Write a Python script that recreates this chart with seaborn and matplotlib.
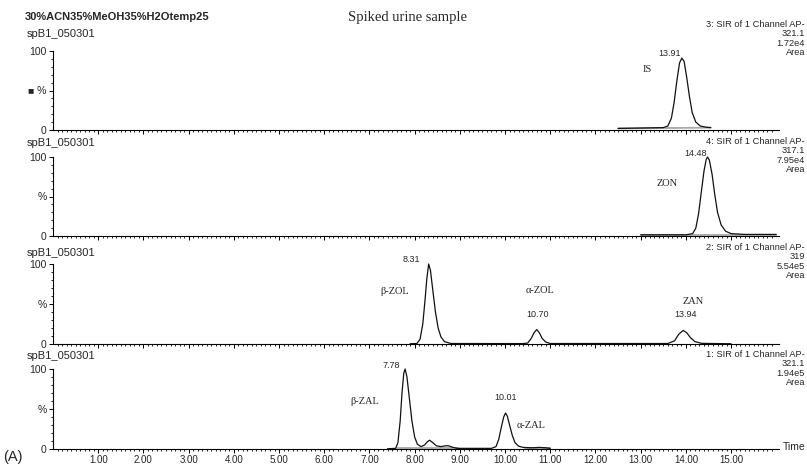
import numpy as np
import pandas as pd
import matplotlib
matplotlib.use("Agg")
import matplotlib.pyplot as plt
import seaborn as sns

# ---------------- data ----------------
# Panel 1 : IS (SIR 321.1)
is_t = [12.50, 13.50, 13.60, 13.68, 13.74, 13.80, 13.86, 13.91, 13.96, 14.02,
        14.08, 14.14, 14.22, 14.32, 14.45, 14.55]
is_y = [2.0, 3.0, 5.0, 15.0, 35.0, 62.0, 85.0, 91.0, 87.0, 66.0,
        42.0, 22.0, 10.0, 5.0, 3.5, 3.0]
is_base_t = [12.50, 14.55]
is_base_y = [2.0, 3.0]

# Panel 2 : ZON (SIR 317.1)
zon_t = [13.00, 14.00, 14.15, 14.22, 14.28, 14.34, 14.40, 14.45, 14.48, 14.52,
         14.58, 14.64, 14.70, 14.78, 14.88, 15.00, 15.30, 16.00]
zon_y = [1.5, 1.5, 3.0, 10.0, 28.0, 55.0, 82.0, 97.0, 100.0, 96.0,
         78.0, 52.0, 30.0, 14.0, 6.0, 3.0, 2.0, 2.0]
zon_base_t = [13.00, 16.00]
zon_base_y = [1.0, 1.0]

# Panel 3 : beta-ZOL, alpha-ZOL, ZAN (SIR 319)
zol_t = [7.90, 8.05, 8.12, 8.18, 8.23, 8.27, 8.31, 8.35, 8.40, 8.46, 8.52, 8.58,
         8.66, 8.80, 10.40, 10.50, 10.58, 10.64, 10.70, 10.76, 10.82, 10.90,
         11.00, 13.60, 13.75, 13.84, 13.94, 14.02, 14.10, 14.20, 14.35, 15.00]
zol_y = [0.3, 0.6, 6.0, 25.0, 55.0, 82.0, 100.0, 92.0, 68.0, 40.0, 20.0, 9.0,
         3.0, 0.6, 0.5, 1.2, 7.0, 14.0, 18.0, 14.0, 7.0, 2.5,
         0.6, 0.6, 4.0, 12.0, 17.0, 14.0, 8.0, 3.0, 0.8, 0.3]

# Panel 4 : beta-ZAL, alpha-ZAL (SIR 321.1)
zal_t = [7.40, 7.58, 7.63, 7.68, 7.72, 7.76, 7.79, 7.83, 7.88, 7.94, 8.00, 8.06,
         8.14, 8.22, 8.28, 8.33, 8.40, 8.48, 8.58, 8.68, 8.75, 8.85, 8.95, 9.70,
         9.80, 9.86, 9.92, 9.97, 10.01, 10.05, 10.10, 10.16, 10.22, 10.30, 10.40,
         10.60, 10.75, 10.90, 11.00]
zal_y = [0.3, 0.8, 8.0, 35.0, 70.0, 95.0, 100.0, 90.0, 65.0, 35.0, 15.0, 6.0,
         3.0, 5.0, 9.0, 11.0, 8.0, 4.0, 3.0, 4.0, 4.0, 2.0, 0.8, 0.8,
         3.0, 12.0, 28.0, 40.0, 45.0, 41.0, 30.0, 17.0, 8.0, 3.5, 2.0,
         1.5, 2.0, 1.5, 0.8]
zal_base_t = [7.60, 8.95]
zal_base_y = [0.8, 0.8]
zal_base2_t = [10.45, 11.00]
zal_base2_y = [1.0, 1.0]

x_ticks = [1, 2, 3, 4, 5, 6, 7, 8, 9, 10, 11, 12, 13, 14, 15]
x_tick_labels = ["1.00", "2.00", "3.00", "4.00", "5.00", "6.00", "7.00", "8.00",
                 "9.00", "10.00", "11.00", "12.00", "13.00", "14.00", "15.00"]

channel_info = [
    "3: SIR of 1 Channel AP-\n321.1\n1.72e4\nArea",
    "4: SIR of 1 Channel AP-\n317.1\n7.95e4\nArea",
    "2: SIR of 1 Channel AP-\n319\n5.54e5\nArea",
    "1: SIR of 1 Channel AP-\n321.1\n1.94e5\nArea",
]
sample_name = "spB1_050301"

# peak labels: (time, height, text, dx_px, dy_px, ha, family)
peak_labels = [
    [(13.91, 91, "13.91", -1, 5, "right", "sans"), (13.91, 91, "IS", -35, -11, "center", "serif")],
    [(14.48, 100, "14.48", -1, 4, "right", "sans"), (14.48, 100, "ZON", -40, -26, "center", "serif")],
    [(8.31, 100, "8.31", -9, 4, "right", "sans"), (8.31, 100, "β-ZOL", -34, -27, "center", "serif"),
     (10.70, 18, "α-ZOL", 3, 39, "center", "serif"), (10.70, 18, "10.70", 1, 15, "center", "sans"),
     (13.94, 17, "ZAN", 10, 29, "center", "serif"), (13.94, 17, "13.94", 2, 16, "center", "sans")],
    [(7.78, 100, "7.78", -5, 4, "right", "sans"), (7.78, 100, "β-ZAL", -40, -33, "center", "serif"),
     (10.01, 45, "10.01", 0, 16, "center", "sans"), (10.01, 45, "α-ZAL", 26, -13, "center", "serif")],
]

# ---------------- figure ----------------
sns.set_style("ticks")
plt.rcParams["font.family"] = ["Liberation Sans", "DejaVu Sans"]
SERIF = ["Liberation Serif", "DejaVu Serif"]

W, H = 807, 466
fig = plt.figure(figsize=(W / 100, H / 100), dpi=100)

# axes rectangles in pixels: (top(100%), bottom(0%))
rows = [(51, 130), (157, 236), (264, 344), (369, 449)]
left_px, right_px = 53, 779

traces = [
    (is_t, is_y, [(is_base_t, is_base_y)]),
    (zon_t, zon_y, [(zon_base_t, zon_base_y)]),
    (zol_t, zol_y, []),
    (zal_t, zal_y, [(zal_base_t, zal_base_y), (zal_base2_t, zal_base2_y)]),
]

axes = []
for i, ((top, bot), (tt, yy, bases)) in enumerate(zip(rows, traces)):
    ax = fig.add_axes([left_px / W, 1 - bot / H, (right_px - left_px) / W, (bot - top) / H])
    axes.append(ax)
    for bt, by in bases:
        sns.lineplot(x=bt, y=by, ax=ax, color="#a8a8a8", linewidth=1.3, estimator=None)
    sns.lineplot(x=tt, y=yy, ax=ax, color="#111111", linewidth=0.9, estimator=None)
    for ln in ax.lines:
        ln.set_clip_on(False)
    ax.set_xlim(0, 16.06)
    ax.set_ylim(0, 100)
    ax.set_xlabel("")
    ax.set_ylabel("")
    for s in ["top", "right"]:
        ax.spines[s].set_visible(False)
    for s in ["left", "bottom"]:
        ax.spines[s].set_linewidth(0.8)
        ax.spines[s].set_color("black")
    ax.set_xticks(x_ticks)
    ax.set_xticks(np.arange(0.1, 16.0, 0.1), minor=True)
    ax.set_yticks([0, 50, 100])
    ax.set_yticks(np.arange(10, 100, 10), minor=True)
    ax.set_yticklabels(["0", "■ %" if i == 0 else "%", "100"])
    ax.tick_params(axis="both", which="major", length=3, width=0.7, labelsize=7.5, pad=1.5, color="black")
    ax.tick_params(axis="both", which="minor", length=1.6, width=0.6, color="black")
    if i == 3:
        ax.set_xticklabels(x_tick_labels)
        ax.tick_params(axis="x", labelsize=7, pad=1.5)
    else:
        ax.set_xticklabels([])
    for (pt, ph, txt, dx, dy, ha, fam) in peak_labels[i]:
        ax.annotate(txt, xy=(pt, ph), xytext=(dx, dy), textcoords="offset pixels",
                    ha=ha, va="center", fontsize=7.5 if fam == "serif" else 6.5,
                    family=SERIF if fam == "serif" else ["Liberation Sans", "DejaVu Sans"],
                    annotation_clip=False)

def ftext(x, y, s, **kw):
    fig.text(x / W, 1 - y / H, s, **kw)

ftext(25, 17, "30%ACN35%MeOH35%H2Otemp25", fontsize=8, fontweight="bold", ha="left", va="center")
ftext(407, 17, "Spiked urine sample", fontsize=10.5, family=SERIF, ha="center", va="center")
for (top, bot), yname in zip(rows, [34, 143, 253, 356]):
    ftext(27, yname, sample_name, fontsize=8, ha="left", va="center")
for info, ytop in zip(channel_info, [20.0, 137.0, 243.0, 350.0]):
    ftext(805, ytop, info, fontsize=6.7, ha="right", va="top", linespacing=1.05)
ftext(3, 457, "(A)", fontsize=10.5, ha="left", va="center")
ftext(783, 447, "Time", fontsize=7.5, ha="left", va="center")

fig.savefig("out.png", dpi=100)
